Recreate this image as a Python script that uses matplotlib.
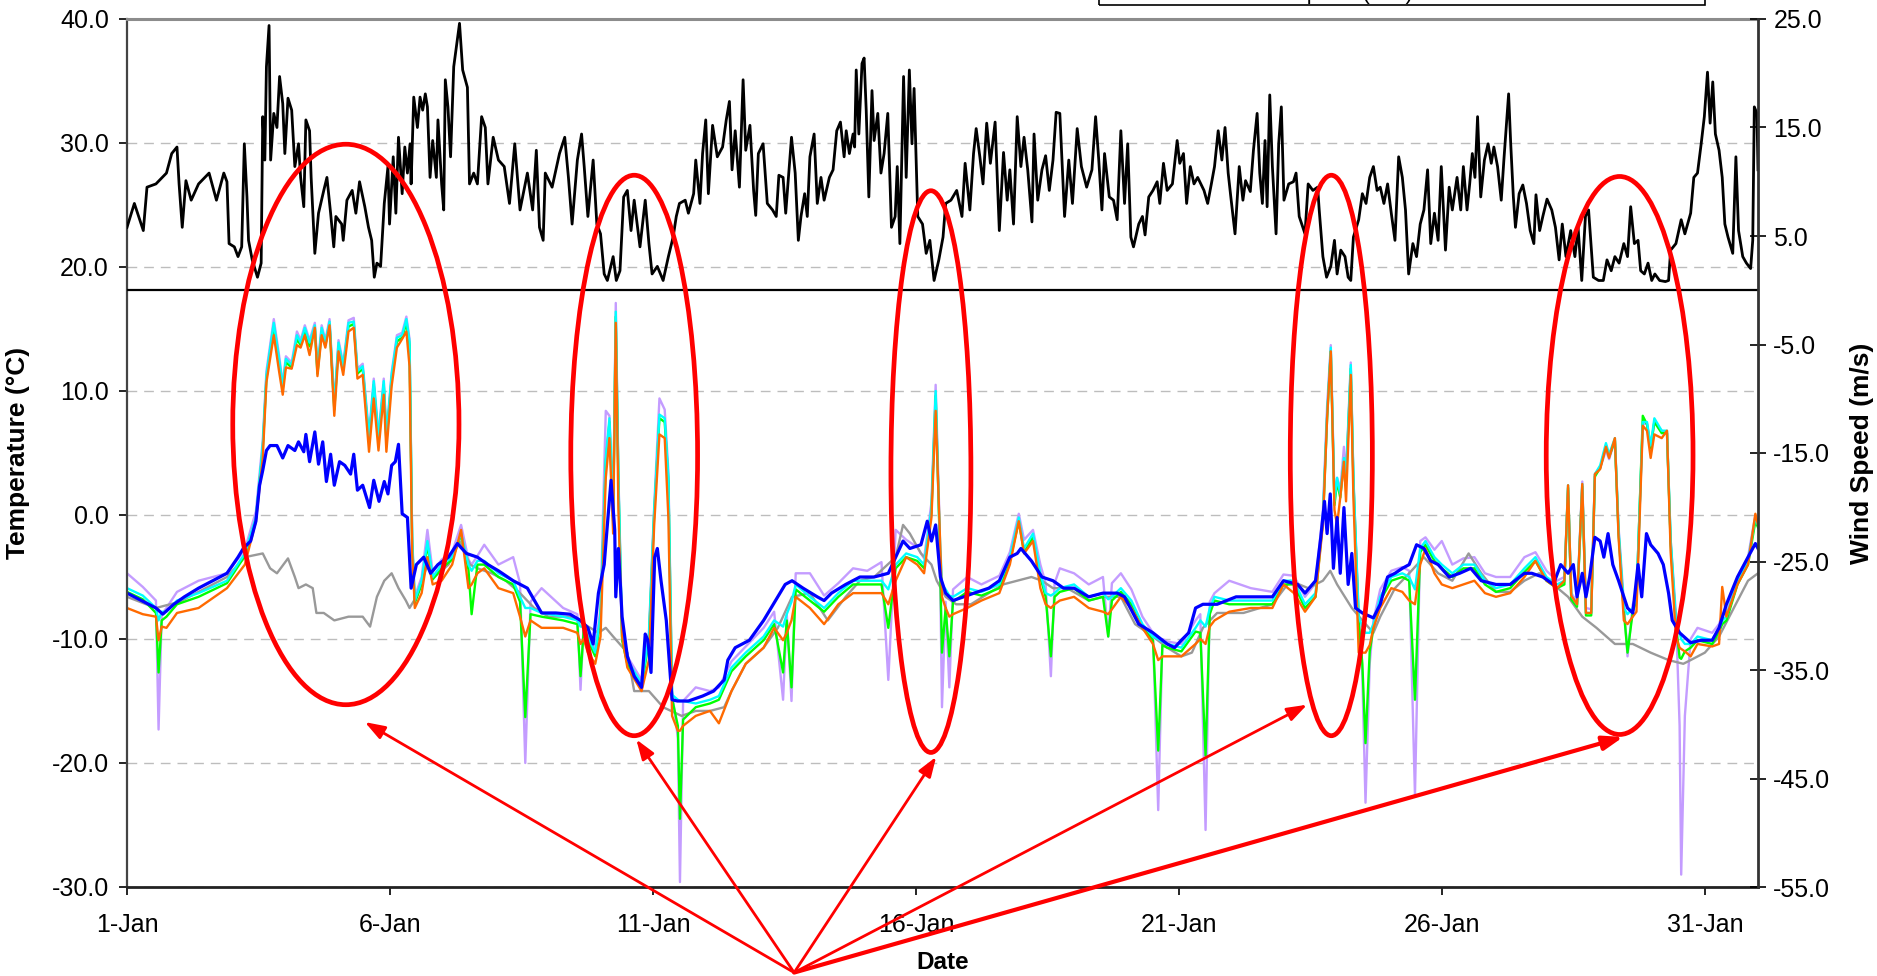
import matplotlib

matplotlib.use("Agg")
import matplotlib.pyplot as plt
from matplotlib.patches import Ellipse, Rectangle
from matplotlib.ticker import FormatStrFormatter

plt.rcParams["font.family"] = ["Liberation Sans", "DejaVu Sans"]

# x values are days since 1-Jan 00:00
date_ticks = [0, 5, 10, 15, 20, 25, 30]
date_labels = ["1-Jan", "6-Jan", "11-Jan", "16-Jan", "21-Jan", "26-Jan", "31-Jan"]
temp_ticks = [-30, -20, -10, 0, 10, 20, 30, 40]
wind_ticks = [-55, -45, -35, -25, -15, -5, 5, 15, 25]

# wind speed (m/s), right axis
wind_days = [
    0.00, 0.14, 0.31, 0.38, 0.55, 0.75, 0.85, 0.95, 0.99, 1.05, 1.12, 1.22, 1.36, 1.56, 1.70, 1.84,
    1.90, 1.94, 2.04, 2.11, 2.18, 2.23, 2.28, 2.31, 2.38, 2.48, 2.55, 2.58, 2.62, 2.65, 2.70, 2.73,
    2.79, 2.85, 2.90, 2.96, 3.00, 3.06, 3.13, 3.19, 3.26, 3.30, 3.36, 3.40, 3.47, 3.50, 3.57, 3.64,
    3.74, 3.80, 3.87, 3.93, 3.97, 4.08, 4.11, 4.18, 4.28, 4.35, 4.42, 4.52, 4.59, 4.65, 4.70, 4.75,
    4.82, 4.89, 4.96, 4.99, 5.06, 5.11, 5.16, 5.23, 5.28, 5.33, 5.38, 5.40, 5.45, 5.52, 5.57, 5.62,
    5.67, 5.71, 5.76, 5.81, 5.88, 5.91, 5.98, 6.02, 6.05, 6.10, 6.15, 6.21, 6.32, 6.38, 6.47, 6.51,
    6.59, 6.66, 6.74, 6.81, 6.86, 6.96, 7.06, 7.17, 7.27, 7.37, 7.47, 7.61, 7.71, 7.78, 7.84, 7.91,
    7.95, 8.08, 8.22, 8.32, 8.39, 8.46, 8.56, 8.64, 8.69, 8.76, 8.86, 8.93, 9.00, 9.07, 9.13, 9.24,
    9.30, 9.37, 9.44, 9.51, 9.58, 9.64, 9.75, 9.85, 9.92, 9.98, 10.08, 10.19, 10.29, 10.38, 10.44, 10.50,
    10.61, 10.67, 10.77, 10.81, 10.89, 10.94, 11.00, 11.05, 11.13, 11.22, 11.32, 11.39, 11.45, 11.50, 11.56, 11.64,
    11.71, 11.76, 11.84, 11.91, 11.95, 12.00, 12.09, 12.17, 12.27, 12.34, 12.39, 12.47, 12.52, 12.63, 12.70, 12.76,
    12.81, 12.88, 12.93, 12.98, 13.06, 13.12, 13.19, 13.25, 13.35, 13.42, 13.49, 13.56, 13.63, 13.67, 13.73, 13.80,
    13.83, 13.86, 13.91, 13.97, 14.01, 14.05, 14.10, 14.16, 14.20, 14.27, 14.33, 14.39, 14.46, 14.53, 14.60, 14.64,
    14.69, 14.76, 14.81, 14.87, 14.92, 14.96, 15.03, 15.12, 15.19, 15.26, 15.34, 15.43, 15.51, 15.56, 15.66, 15.77,
    15.87, 15.93, 16.02, 16.09, 16.14, 16.21, 16.27, 16.34, 16.41, 16.50, 16.58, 16.66, 16.73, 16.78, 16.85, 16.92,
    16.99, 17.05, 17.12, 17.20, 17.24, 17.31, 17.39, 17.46, 17.53, 17.60, 17.66, 17.73, 17.82, 17.90, 17.97, 18.06,
    18.14, 18.24, 18.34, 18.41, 18.47, 18.53, 18.58, 18.67, 18.75, 18.82, 18.89, 18.96, 19.02, 19.08, 19.13, 19.23,
    19.30, 19.35, 19.42, 19.50, 19.58, 19.63, 19.70, 19.77, 19.87, 19.96, 20.01, 20.08, 20.14, 20.21, 20.28, 20.35,
    20.47, 20.54, 20.61, 20.67, 20.74, 20.81, 20.87, 20.93, 20.98, 21.06, 21.14, 21.21, 21.26, 21.35, 21.41, 21.48,
    21.53, 21.58, 21.63, 21.67, 21.72, 21.77, 21.84, 21.89, 21.94, 21.99, 22.08, 22.17, 22.22, 22.28, 22.39, 22.45,
    22.54, 22.63, 22.66, 22.73, 22.80, 22.88, 22.95, 23.00, 23.07, 23.15, 23.21, 23.26, 23.31, 23.41, 23.48, 23.55,
    23.62, 23.69, 23.76, 23.82, 23.89, 23.96, 24.03, 24.10, 24.17, 24.24, 24.30, 24.36, 24.44, 24.51, 24.58, 24.65,
    24.72, 24.78, 24.85, 24.92, 24.98, 25.06, 25.13, 25.19, 25.28, 25.35, 25.40, 25.47, 25.52, 25.57, 25.62, 25.67,
    25.73, 25.80, 25.87, 25.93, 25.98, 26.05, 26.12, 26.17, 26.21, 26.26, 26.30, 26.35, 26.39, 26.46, 26.53, 26.60,
    26.67, 26.74, 26.78, 26.85, 26.91, 26.99, 27.08, 27.15, 27.22, 27.28, 27.35, 27.44, 27.52, 27.58, 27.65, 27.72,
    27.78, 27.87, 27.97, 28.06, 28.13, 28.21, 28.28, 28.36, 28.45, 28.52, 28.58, 28.65, 28.72, 28.77, 28.84, 28.91,
    28.98, 29.04, 29.13, 29.24, 29.30, 29.34, 29.44, 29.54, 29.61, 29.72, 29.78, 29.85, 29.92, 29.98, 30.04, 30.09,
    30.14, 30.19, 30.26, 30.32, 30.37, 30.43, 30.52, 30.58, 30.63, 30.71, 30.78, 30.86, 30.90, 30.93, 30.98, 31.00,
]
wind_ms = [
    5.8, 8.0, 5.5, 9.5, 9.8, 10.8, 12.6, 13.2, 9.8, 5.8, 10.1, 8.3, 9.8, 10.8, 8.3, 10.8,
    10.0, 4.3, 4.0, 3.1, 4.0, 13.5, 8.6, 4.6, 2.8, 1.2, 2.5, 16.0, 12.0, 20.6, 24.4, 12.0,
    16.3, 15.0, 19.7, 17.2, 12.6, 17.7, 16.6, 11.4, 13.5, 10.4, 7.7, 15.7, 14.7, 10.4, 3.4, 7.1,
    9.2, 10.4, 7.1, 4.0, 6.8, 6.1, 4.6, 8.3, 9.2, 7.1, 10.0, 7.7, 5.8, 4.6, 1.2, 2.5,
    2.2, 8.0, 11.4, 6.1, 12.3, 7.1, 14.1, 8.9, 13.2, 10.8, 13.5, 9.8, 17.8, 15.0, 17.8, 16.6,
    18.1, 16.9, 10.4, 13.8, 10.4, 15.7, 9.8, 7.4, 19.4, 16.9, 12.3, 20.6, 24.6, 20.3, 18.7, 9.8,
    10.8, 9.8, 16.0, 15.0, 9.8, 14.1, 12.0, 11.4, 8.0, 13.5, 7.4, 10.8, 7.4, 12.9, 5.8, 4.6,
    10.8, 9.5, 12.6, 14.1, 10.4, 6.1, 12.0, 14.4, 11.4, 6.8, 12.0, 6.1, 5.2, 1.5, 0.9, 3.1,
    0.9, 1.8, 8.6, 9.2, 5.5, 8.3, 4.0, 8.3, 4.3, 1.5, 2.2, 0.9, 3.1, 4.9, 6.8, 8.0,
    8.3, 7.1, 8.9, 12.0, 8.0, 12.6, 15.7, 8.9, 15.2, 12.3, 13.2, 15.7, 17.4, 11.1, 14.7, 9.5,
    19.4, 12.9, 15.2, 9.2, 6.9, 12.6, 13.5, 8.0, 7.4, 6.8, 10.6, 10.4, 7.1, 14.1, 10.8, 4.6,
    6.8, 8.9, 6.8, 12.3, 14.4, 8.0, 10.4, 8.3, 10.4, 11.1, 14.7, 15.5, 12.3, 14.7, 12.6, 14.4,
    13.2, 20.3, 14.4, 20.9, 21.4, 16.6, 8.6, 18.4, 13.8, 16.3, 10.8, 12.6, 16.3, 5.8, 6.8, 11.4,
    4.3, 19.7, 10.4, 20.3, 13.5, 18.6, 6.8, 6.1, 3.4, 4.6, 0.9, 2.8, 4.9, 8.0, 8.3, 9.2,
    6.8, 11.7, 7.4, 12.6, 14.9, 12.3, 9.8, 15.4, 11.7, 15.5, 5.5, 12.7, 8.3, 11.1, 6.1, 16.0,
    11.4, 14.1, 11.1, 6.3, 14.4, 8.3, 11.1, 12.4, 9.2, 12.0, 16.4, 16.3, 6.8, 12.0, 8.0, 14.9,
    11.4, 9.5, 11.1, 16.0, 12.0, 7.4, 12.6, 8.6, 8.3, 6.5, 14.7, 8.0, 13.5, 4.9, 4.0, 6.1,
    6.8, 5.1, 8.6, 9.2, 10.0, 8.0, 11.7, 9.2, 9.8, 13.8, 11.7, 12.6, 8.0, 11.4, 9.8, 10.4,
    9.2, 8.0, 9.8, 11.4, 14.7, 12.0, 15.0, 10.8, 8.6, 5.2, 11.4, 8.3, 10.1, 9.1, 12.9, 16.3,
    10.8, 8.0, 13.8, 7.7, 18.0, 11.4, 5.2, 13.5, 16.9, 8.3, 9.8, 10.0, 10.8, 6.8, 5.2, 9.8,
    9.2, 9.5, 7.4, 3.1, 1.2, 2.2, 4.6, 1.5, 3.7, 3.1, 1.2, 0.9, 4.9, 6.5, 8.9, 8.0,
    10.4, 11.4, 9.2, 9.5, 8.0, 9.8, 7.1, 4.6, 12.3, 10.4, 7.4, 1.5, 4.3, 3.1, 6.1, 7.4,
    11.1, 4.3, 7.1, 4.6, 11.4, 3.7, 9.5, 7.4, 10.4, 7.4, 11.4, 7.4, 9.8, 12.6, 10.4, 16.0,
    8.6, 12.0, 13.5, 11.7, 13.2, 11.4, 8.3, 12.0, 14.7, 18.1, 13.5, 8.6, 5.8, 8.9, 9.7, 8.0,
    5.5, 4.3, 8.8, 5.5, 6.8, 8.4, 7.4, 5.8, 2.8, 6.1, 3.1, 5.5, 3.1, 5.8, 0.9, 6.8,
    7.4, 1.2, 0.9, 0.9, 2.8, 1.8, 3.1, 2.5, 4.3, 3.1, 7.7, 4.3, 4.6, 1.8, 1.5, 2.5,
    0.9, 1.5, 0.9, 0.8, 0.9, 3.7, 4.3, 6.5, 5.2, 7.1, 10.4, 10.8, 13.5, 16.0, 20.1, 15.4,
    19.2, 14.4, 12.9, 10.4, 6.1, 4.9, 3.4, 12.3, 5.5, 3.1, 2.5, 2.0, 4.6, 16.9, 16.3, 11.1,
]

# sensor temperatures that jump during the events (cyan, green, orange, purple)
warm_days = [
    0.00, 0.30, 0.55, 0.60, 0.66, 0.75, 0.95, 1.36,
    1.90, 2.24, 2.45, 2.58, 2.65, 2.79, 2.89, 2.96,
    3.02, 3.13, 3.23, 3.30, 3.38, 3.47, 3.57, 3.62,
    3.70, 3.77, 3.85, 3.94, 4.02, 4.11, 4.21, 4.31,
    4.38, 4.48, 4.60, 4.69, 4.78, 4.88, 4.93, 5.03,
    5.13, 5.23, 5.31, 5.37, 5.42, 5.47, 5.60, 5.71,
    5.81, 5.98, 6.18, 6.35, 6.49, 6.55, 6.66, 6.79,
    7.06, 7.34, 7.47, 7.57, 7.67, 7.88, 8.29, 8.56,
    8.62, 8.68, 8.76, 8.90, 9.00, 9.10, 9.17, 9.24,
    9.29, 9.34, 9.41, 9.51, 9.78, 9.92, 10.02, 10.12,
    10.22, 10.29, 10.36, 10.47, 10.51, 10.57, 10.81, 11.08,
    11.25, 11.49, 11.76, 12.10, 12.30, 12.47, 12.54, 12.63,
    12.71, 12.98, 13.25, 13.52, 13.80, 14.07, 14.34, 14.47,
    14.61, 14.81, 15.02, 15.15, 15.29, 15.37, 15.44, 15.49,
    15.56, 15.63, 15.70, 15.97, 16.24, 16.58, 16.78, 16.95,
    17.05, 17.22, 17.36, 17.46, 17.56, 17.63, 17.73, 18.00,
    18.28, 18.55, 18.65, 18.72, 18.89, 19.09, 19.30, 19.50,
    19.60, 19.68, 19.77, 20.04, 20.31, 20.40, 20.50, 20.58,
    20.67, 20.95, 21.36, 21.77, 21.98, 22.18, 22.39, 22.59,
    22.73, 22.81, 22.88, 22.95, 23.00, 23.06, 23.13, 23.17,
    23.26, 23.31, 23.41, 23.48, 23.54, 23.62, 23.69, 23.82,
    24.03, 24.24, 24.37, 24.48, 24.58, 24.68, 24.85, 24.99,
    25.19, 25.40, 25.61, 25.81, 26.02, 26.29, 26.56, 26.77,
    26.98, 27.18, 27.32, 27.39, 27.45, 27.56, 27.66, 27.73,
    27.83, 27.90, 28.00, 28.11, 28.17, 28.28, 28.35, 28.45,
    28.52, 28.62, 28.69, 28.81, 28.89, 28.96, 29.03, 29.17,
    29.27, 29.34, 29.44, 29.51, 29.54, 29.61, 29.72, 29.85,
    30.13, 30.26, 30.32, 30.40, 30.61, 30.81, 30.95, 31.00,
]
cyan_t = [
    -5.9, -6.5, -7.5, -8.5, -7.8, -7.8, -6.9, -6.3,
    -5.3, -3.1, -0.2, 5.6, 11.3, 15.5, 12.6, 10.4,
    12.6, 12.1, 14.5, 13.9, 15.1, 13.9, 15.3, 11.6,
    15.1, 13.9, 15.6, 8.8, 13.9, 12.0, 15.5, 15.6,
    11.6, 12.0, 6.2, 10.8, 6.2, 10.8, 6.2, 11.3,
    14.3, 14.5, 15.8, 14.0, -2.0, -6.9, -5.3, -2.1,
    -5.0, -4.0, -3.4, -1.5, -4.0, -4.5, -3.7, -3.7,
    -4.7, -5.3, -6.6, -7.5, -7.5, -7.9, -8.2, -8.5,
    -9.0, -9.0, -9.8, -11.1, -8.0, 4.6, 7.8, -0.2,
    16.4, 3.0, -9.8, -11.7, -13.6, -9.8, 0.4, 8.1,
    7.8, 3.0, -14.5, -14.9, -15.0, -15.0, -15.2, -14.9,
    -14.6, -12.3, -11.1, -9.8, -8.5, -9.0, -8.0, -7.0,
    -5.6, -6.6, -7.5, -6.3, -5.3, -5.3, -5.3, -6.0,
    -4.0, -3.1, -3.4, -4.0, 0.5, 10.0, -0.8, -5.6,
    -6.0, -6.5, -6.6, -5.9, -6.2, -5.6, -3.4, -0.2,
    -2.7, -1.5, -4.7, -6.3, -6.5, -6.3, -5.9, -5.6,
    -6.6, -6.3, -6.8, -6.6, -5.9, -6.9, -8.8, -9.8,
    -10.0, -10.2, -10.4, -10.7, -9.1, -8.5, -9.0, -7.5,
    -6.6, -6.9, -6.9, -6.9, -5.3, -5.3, -7.2, -6.3,
    -0.2, 8.1, 13.5, 1.1, 3.0, 1.7, 4.6, 3.0,
    12.1, 3.0, -8.2, -9.0, -9.5, -9.5, -8.8, -6.6,
    -5.0, -4.7, -5.0, -6.0, -2.7, -2.1, -3.4, -4.0,
    -4.7, -4.0, -4.0, -5.3, -5.9, -5.6, -4.3, -3.4,
    -5.0, -5.6, -5.3, 2.4, -6.5, -7.2, 2.5, -7.9,
    -7.9, 3.3, 4.0, 5.8, 4.9, 6.2, -1.2, -7.5,
    -8.0, -7.5, -6.6, 7.5, 7.5, 5.6, 7.8, 6.8,
    6.8, -2.0, -8.5, -9.5, -10.0, -10.4, -10.4, -9.8,
    -10.1, -9.1, -8.5, -8.2, -5.3, -3.7, -0.2, -0.8,
]
green_t = [
    -6.2, -6.8, -7.9, -12.7, -8.5, -8.2, -7.2, -6.6,
    -5.5, -3.3, -0.3, 5.3, 11.0, 15.2, 12.3, 10.2,
    12.3, 11.9, 14.2, 13.7, 14.8, 13.6, 15.1, 11.4,
    14.8, 13.7, 15.4, 8.5, 13.6, 11.8, 15.2, 15.4,
    11.4, 11.8, 5.9, 10.5, 5.9, 10.5, 5.9, 11.0,
    14.0, 14.3, 15.5, 13.7, -2.3, -7.1, -5.6, -2.4,
    -5.2, -4.3, -3.6, -1.6, -4.4, -8.0, -4.0, -4.0,
    -5.0, -5.6, -7.0, -16.3, -8.0, -8.2, -8.5, -8.8,
    -13.0, -9.3, -10.1, -11.4, -8.3, 4.3, 7.5, -0.5,
    16.0, 2.7, -10.1, -12.0, -13.9, -10.1, 0.1, 7.8,
    7.5, 2.7, -14.8, -17.0, -24.5, -16.5, -15.5, -15.2,
    -14.9, -12.6, -11.4, -10.1, -8.8, -12.7, -8.5, -13.9,
    -6.0, -6.9, -7.8, -6.6, -5.6, -5.6, -5.6, -9.1,
    -4.3, -3.4, -3.7, -4.3, 0.2, 9.6, -1.1, -11.1,
    -7.5, -11.4, -7.0, -6.2, -6.5, -5.9, -3.7, -0.5,
    -3.0, -1.8, -5.0, -6.6, -11.4, -6.6, -6.2, -5.9,
    -6.9, -6.6, -9.8, -6.9, -6.2, -7.2, -9.1, -10.1,
    -19.0, -10.5, -10.7, -11.0, -9.4, -9.5, -19.4, -8.0,
    -6.9, -7.2, -7.2, -7.2, -5.6, -5.6, -7.5, -6.6,
    -0.5, 7.8, 13.2, 0.8, 2.7, 1.4, 4.3, 2.7,
    11.8, 2.7, -8.5, -12.0, -18.4, -11.0, -9.1, -6.9,
    -5.3, -5.0, -5.3, -14.9, -3.0, -2.4, -3.7, -4.3,
    -5.0, -4.3, -4.3, -5.6, -6.2, -5.9, -4.6, -3.7,
    -5.3, -5.9, -5.6, 2.2, -6.8, -7.4, 2.3, -8.1,
    -8.1, 3.1, 3.8, 5.6, 4.7, 6.0, -1.5, -7.8,
    -11.1, -7.8, -6.9, 8.0, 7.3, 5.4, 7.5, 6.6,
    6.6, -2.3, -8.8, -11.5, -11.6, -11.0, -10.7, -10.1,
    -10.4, -9.4, -8.8, -8.5, -5.6, -4.0, -0.5, -1.0,
]
orange_t = [
    -7.5, -8.0, -8.2, -10.1, -9.0, -9.1, -7.9, -7.5,
    -5.9, -4.0, -0.5, 4.6, 10.7, 14.5, 11.6, 9.7,
    11.9, 11.8, 13.7, 13.5, 14.5, 12.9, 15.1, 11.2,
    14.5, 13.5, 15.3, 8.0, 13.2, 11.3, 14.8, 15.1,
    11.0, 11.3, 5.1, 9.4, 5.2, 9.7, 5.1, 10.4,
    13.5, 14.2, 14.8, 12.0, -3.0, -7.5, -6.3, -3.4,
    -5.6, -5.3, -4.0, -1.2, -5.9, -5.6, -4.7, -4.3,
    -5.9, -6.3, -8.2, -9.8, -8.5, -9.1, -9.1, -9.5,
    -10.4, -10.0, -11.1, -12.0, -9.8, 3.0, 6.2, -1.5,
    15.5, 0.5, -9.8, -12.3, -14.2, -11.7, -0.8, 6.5,
    6.2, -0.2, -16.2, -17.4, -17.4, -17.0, -16.2, -15.8,
    -16.8, -14.2, -12.0, -10.7, -9.1, -10.1, -9.5, -8.5,
    -6.6, -7.5, -8.8, -7.2, -6.3, -6.3, -6.3, -7.2,
    -5.3, -3.4, -4.0, -4.7, -0.2, 8.4, -0.2, -6.6,
    -7.5, -8.2, -8.0, -7.5, -6.9, -6.3, -4.0, -0.5,
    -3.1, -2.1, -5.9, -7.2, -7.5, -7.2, -6.9, -6.6,
    -7.5, -7.8, -8.0, -7.6, -6.6, -7.5, -9.1, -10.4,
    -11.7, -11.4, -11.4, -11.4, -10.4, -10.0, -10.4, -9.0,
    -8.5, -7.8, -7.5, -7.5, -5.6, -6.3, -7.8, -6.6,
    -0.8, 7.8, 13.2, 0.4, -0.8, 1.4, 4.3, 1.1,
    11.3, 1.4, -11.1, -11.1, -11.1, -10.5, -9.1, -7.5,
    -5.9, -6.2, -6.9, -7.2, -4.0, -2.7, -4.7, -5.6,
    -5.9, -5.6, -5.3, -6.3, -6.6, -6.3, -5.0, -3.7,
    -5.3, -5.9, -5.3, 2.4, -6.5, -7.2, 2.5, -7.9,
    -7.9, 3.3, 3.7, 5.5, 4.6, 6.2, -1.8, -8.5,
    -8.8, -8.2, -7.8, 7.2, 6.8, 4.6, 6.5, 6.2,
    6.8, -3.0, -9.8, -10.7, -10.8, -11.0, -11.4, -10.4,
    -10.6, -10.4, -5.8, -8.2, -5.6, -4.0, 0.1, -0.8,
]
purple_t = [
    -4.7, -5.8, -6.9, -17.3, -8.0, -7.5, -6.2, -5.3,
    -4.7, -2.8, 0.3, 6.0, 11.6, 15.8, 12.9, 10.6,
    12.8, 12.3, 14.8, 14.1, 15.3, 14.1, 15.5, 11.8,
    15.3, 14.1, 15.8, 9.0, 14.1, 12.2, 15.7, 15.9,
    11.8, 12.2, 6.5, 11.0, 6.5, 11.0, 6.5, 11.5,
    14.5, 14.7, 16.0, 14.2, -1.8, -6.6, -5.0, -1.2,
    -4.6, -3.6, -3.0, -0.8, -3.6, -4.0, -3.3, -2.4,
    -4.0, -3.4, -5.5, -20.0, -7.0, -5.9, -7.5, -8.0,
    -14.1, -8.8, -9.5, -10.8, -7.5, 8.4, 8.0, 0.2,
    17.1, 3.3, -9.5, -11.4, -13.3, -9.5, 0.7, 9.4,
    8.5, 3.5, -14.2, -18.0, -29.6, -15.0, -13.9, -14.2,
    -13.9, -11.8, -10.6, -9.1, -7.8, -14.9, -8.0, -15.0,
    -4.7, -4.7, -6.5, -5.5, -4.3, -4.5, -3.8, -13.3,
    -1.2, -2.0, -2.6, -3.5, 1.0, 10.5, 0.0, -15.5,
    -7.0, -13.9, -6.0, -5.0, -5.6, -4.9, -3.0, 0.1,
    -2.0, -1.2, -4.0, -5.5, -13.0, -5.5, -4.3, -4.7,
    -5.6, -5.0, -9.8, -5.5, -4.7, -6.0, -8.2, -9.5,
    -23.8, -10.0, -10.2, -10.4, -8.5, -8.0, -25.4, -7.0,
    -6.3, -5.3, -5.9, -6.2, -4.8, -4.9, -6.6, -5.5,
    0.3, 8.8, 13.7, 1.5, 3.0, 2.0, 5.5, 3.2,
    12.3, 3.0, -8.0, -13.0, -23.2, -12.0, -8.5, -6.0,
    -4.5, -4.2, -4.5, -22.6, -2.1, -1.8, -2.8, -2.1,
    -4.0, -3.5, -3.4, -4.7, -5.0, -5.0, -3.4, -3.0,
    -4.5, -5.3, -5.0, 2.0, -6.3, -7.0, 2.7, -7.5,
    -7.6, 3.3, 3.8, 5.2, 4.5, 6.0, -1.0, -7.0,
    -11.4, -7.2, -6.5, 7.3, 7.4, 5.5, 7.5, 6.8,
    6.6, -2.0, -8.0, -17.0, -29.0, -16.2, -10.0, -9.1,
    -9.5, -8.8, -8.0, -8.0, -5.0, -3.4, 0.0, -0.8,
]

blue_days = [
    0.00, 0.55, 0.68, 0.89, 1.09, 1.36, 1.63, 1.90, 2.11, 2.21, 2.35, 2.45, 2.52, 2.58, 2.65, 2.72,
    2.85, 2.96, 3.06, 3.19, 3.26, 3.36, 3.40, 3.47, 3.57, 3.64, 3.72, 3.79, 3.87, 3.94, 4.04, 4.14,
    4.25, 4.31, 4.38, 4.48, 4.61, 4.69, 4.79, 4.89, 4.96, 5.03, 5.10, 5.16, 5.23, 5.33, 5.40, 5.50,
    5.64, 5.77, 5.91, 6.11, 6.28, 6.45, 6.66, 6.86, 7.06, 7.34, 7.61, 7.88, 8.15, 8.42, 8.62, 8.76,
    8.86, 8.96, 9.07, 9.13, 9.20, 9.27, 9.29, 9.34, 9.41, 9.51, 9.64, 9.78, 9.85, 9.90, 9.96, 10.03,
    10.08, 10.15, 10.25, 10.36, 10.46, 10.67, 10.94, 11.15, 11.35, 11.42, 11.56, 11.83, 12.10, 12.37, 12.51, 12.64,
    12.85, 13.12, 13.25, 13.39, 13.66, 13.93, 14.20, 14.47, 14.75, 14.88, 15.09, 15.21, 15.29, 15.37, 15.46, 15.56,
    15.70, 15.90, 16.10, 16.38, 16.58, 16.78, 16.92, 16.99, 17.19, 17.39, 17.60, 17.80, 18.00, 18.28, 18.55, 18.82,
    18.96, 19.23, 19.50, 19.77, 19.91, 20.04, 20.18, 20.31, 20.45, 20.72, 21.08, 21.43, 21.77, 21.98, 22.25, 22.39,
    22.59, 22.69, 22.76, 22.81, 22.87, 22.93, 23.00, 23.06, 23.13, 23.21, 23.28, 23.35, 23.48, 23.69, 23.82, 23.96,
    24.10, 24.24, 24.37, 24.51, 24.65, 24.78, 24.92, 25.13, 25.33, 25.54, 25.74, 26.02, 26.29, 26.56, 26.70, 26.91,
    27.11, 27.25, 27.39, 27.49, 27.56, 27.66, 27.73, 27.80, 27.90, 28.00, 28.07, 28.15, 28.24, 28.35, 28.45, 28.52,
    28.62, 28.72, 28.79, 28.88, 28.96, 29.10, 29.20, 29.30, 29.37, 29.51, 29.72, 29.92, 30.13, 30.26, 30.40, 30.61,
    30.81, 30.95, 31.00,
]
blue_t = [
    -6.3, -7.5, -8.0, -7.2, -6.6, -5.9, -5.3, -4.7, -3.4, -2.7, -2.1, -0.5, 2.4, 3.6, 5.2, 5.6,
    5.6, 4.6, 5.6, 5.2, 5.9, 5.1, 6.5, 4.3, 6.7, 4.1, 5.9, 2.7, 4.9, 2.4, 4.3, 4.0,
    3.3, 4.9, 2.0, 2.4, 0.6, 2.8, 1.1, 2.7, 1.7, 4.0, 4.3, 5.7, 0.1, -0.2, -5.9, -4.0,
    -3.4, -4.7, -4.0, -3.4, -2.3, -3.1, -3.4, -4.0, -4.5, -5.3, -5.9, -7.9, -7.9, -8.0, -8.5, -9.1,
    -10.4, -6.3, -4.0, -0.8, 2.8, -1.2, -6.6, -2.7, -8.2, -11.4, -13.0, -13.9, -9.6, -10.1, -12.7, -3.4,
    -2.7, -5.3, -8.5, -14.9, -15.0, -15.0, -14.6, -14.2, -13.3, -11.7, -10.7, -10.1, -8.5, -6.6, -5.6, -5.3,
    -5.9, -6.6, -6.9, -6.3, -5.6, -5.0, -5.0, -4.7, -2.1, -2.7, -2.4, -0.5, -2.1, -0.8, -5.0, -6.3,
    -6.9, -6.6, -6.3, -5.9, -5.3, -3.4, -3.1, -2.7, -3.7, -5.0, -5.3, -5.9, -5.9, -6.6, -6.3, -6.3,
    -6.6, -8.8, -9.5, -10.4, -10.7, -10.1, -9.5, -7.5, -7.2, -7.2, -6.6, -6.6, -6.6, -5.3, -5.6, -6.3,
    -5.3, -1.8, 1.1, -1.5, 1.7, -4.3, -0.2, -4.7, 0.6, -5.6, -3.1, -7.5, -7.9, -8.3, -7.2, -5.0,
    -4.7, -4.3, -4.0, -2.4, -2.7, -3.7, -4.0, -5.0, -4.7, -4.3, -5.3, -5.6, -5.6, -4.7, -4.7, -5.0,
    -5.6, -4.0, -4.7, -4.0, -6.6, -4.7, -6.6, -5.0, -1.8, -2.1, -3.4, -1.5, -4.0, -5.3, -6.6, -7.5,
    -7.9, -4.0, -6.6, -1.5, -2.4, -3.1, -4.0, -6.3, -8.5, -9.5, -10.3, -10.1, -10.1, -9.1, -7.2, -5.0,
    -3.4, -2.3, -2.7,
]

gray_days = [
    0.00, 0.55, 1.00, 1.90, 2.24, 2.58, 2.72, 2.85, 3.06, 3.19, 3.26, 3.40, 3.53, 3.60, 3.74, 3.94,
    4.21, 4.48, 4.62, 4.75, 4.89, 5.03, 5.16, 5.30, 5.37, 5.50, 5.71, 5.84, 6.11, 6.32, 6.52, 6.66,
    6.93, 7.20, 7.47, 7.74, 8.01, 8.42, 8.69, 8.96, 9.10, 9.24, 9.51, 9.64, 9.92, 10.19, 10.54, 10.81,
    11.08, 11.35, 11.49, 11.76, 12.10, 12.37, 12.64, 12.98, 13.12, 13.32, 13.66, 13.93, 14.20, 14.61, 14.75, 14.88,
    15.09, 15.29, 15.39, 15.56, 15.76, 16.04, 16.38, 16.65, 16.92, 17.19, 17.39, 17.60, 17.87, 18.28, 18.55, 18.89,
    19.16, 19.50, 19.77, 20.04, 20.24, 20.45, 20.72, 21.22, 21.77, 22.11, 22.45, 22.73, 22.87, 23.00, 23.28, 23.48,
    23.69, 23.82, 24.10, 24.37, 24.65, 24.92, 25.19, 25.50, 25.74, 26.02, 26.29, 26.56, 26.84, 27.11, 27.39, 27.66,
    27.93, 28.28, 28.62, 28.96, 29.30, 29.58, 29.72, 29.99, 30.26, 30.54, 30.81, 31.00,
]
gray_t = [
    -6.6, -7.5, -7.0, -5.0, -3.4, -3.1, -4.3, -4.7, -3.5, -5.0, -5.9, -5.6, -5.9, -7.9, -7.9, -8.5,
    -8.2, -8.2, -9.0, -6.6, -5.3, -4.7, -5.9, -6.9, -7.5, -6.6, -4.0, -5.0, -4.0, -2.1, -4.0, -4.3,
    -4.7, -5.3, -6.3, -7.5, -8.2, -8.2, -8.8, -9.5, -9.1, -9.8, -11.1, -14.2, -14.2, -15.5, -16.2, -15.8,
    -15.8, -15.5, -14.2, -12.0, -10.7, -9.1, -6.6, -6.3, -7.2, -8.5, -6.6, -5.3, -5.0, -3.4, -0.8, -1.5,
    -3.1, -4.0, -5.3, -6.6, -7.2, -7.2, -6.3, -5.6, -5.3, -5.0, -5.3, -5.9, -5.9, -6.9, -6.6, -6.6,
    -8.8, -9.8, -10.7, -11.4, -11.1, -9.1, -7.9, -7.9, -7.2, -5.3, -5.9, -5.3, -4.5, -5.6, -7.5, -8.5,
    -9.5, -8.2, -5.9, -4.7, -3.4, -4.7, -5.3, -3.1, -4.7, -6.2, -6.2, -5.3, -4.7, -5.6, -6.6, -8.2,
    -9.1, -10.4, -10.4, -11.1, -11.7, -12.0, -11.7, -11.1, -9.8, -7.5, -5.3, -4.7,
]

# red annotation ellipses: centre (day, degC), width (days), height (degC)
ellipse_centres = [(4.16, 7.3), (9.64, 4.8), (15.28, 3.5), (22.89, 4.8), (28.37, 4.8)]
ellipse_widths = [4.30, 2.41, 1.52, 1.56, 2.79]
ellipse_heights = [45.2, 45.2, 45.3, 45.2, 45.0]
arrow_origin = (12.68, -36.9)
arrow_tips = [(4.52, -16.7), (9.68, -18.1), (15.38, -19.5), (22.43, -15.3), (28.44, -17.9)]
arrow_widths = [2.0, 2.0, 2.0, 2.0, 3.0]

W, H = 1877, 976
fig = plt.figure(figsize=(W / 100, H / 100), dpi=100)
ax = fig.add_axes([127 / W, 1 - 887 / H, 1631 / W, 868 / H])
ax2 = ax.twinx()

ax.grid(axis="y", color="#bdbdbd", linestyle=(0, (7, 5)), linewidth=1.0)
ax.plot(warm_days, purple_t, color="#c49cff", lw=1.7)
ax.plot(gray_days, gray_t, color="#999999", lw=1.7)
ax.plot(warm_days, green_t, color="#00ff00", lw=1.7)
ax.plot(warm_days, cyan_t, color="#00ffff", lw=1.7)
ax.plot(warm_days, orange_t, color="#ff6a00", lw=1.7)
ax.plot(blue_days, blue_t, color="#0000ff", lw=2.3)

ax2.plot(wind_days, wind_ms, color="black", lw=2.0)
ax2.axhline(0, color="black", lw=1.6)

ax.set_xlim(0, 31)
ax.set_ylim(-30, 40)
ax2.set_ylim(-55, 25)
ax.set_xticks(date_ticks)
ax.set_xticklabels(date_labels)
ax.set_yticks(temp_ticks)
ax2.set_yticks(wind_ticks)
ax.yaxis.set_major_formatter(FormatStrFormatter("%.1f"))
ax2.yaxis.set_major_formatter(FormatStrFormatter("%.1f"))

ax.tick_params(axis="x", direction="out", length=6, width=1.2, labelsize=18, pad=13)
ax.tick_params(axis="y", direction="out", length=6, width=1.2, labelsize=18, pad=7)
ax2.tick_params(axis="y", direction="inout", length=12, width=1.2, labelsize=18, pad=5)

for side in ["left", "top", "bottom"]:
    ax2.spines[side].set_visible(False)
ax.spines["right"].set_visible(False)
ax.spines["top"].set_color("#8c8c8c")
ax.spines["top"].set_linewidth(2.2)
ax.spines["left"].set_color("#444444")
ax.spines["left"].set_linewidth(1.6)
ax.spines["bottom"].set_color("#222222")
ax.spines["bottom"].set_linewidth(2.0)
ax2.spines["right"].set_color("#333333")
ax2.spines["right"].set_linewidth(2.0)

ax.set_ylabel("Temperature (°C)", fontsize=19, fontweight="bold", va="center")
ax.yaxis.set_label_coords(-0.0668, 0.5)
ax2.set_ylabel("Wind Speed (m/s)", fontsize=19, fontweight="bold", rotation=90, va="center")
ax2.yaxis.set_label_coords(1.0637, 0.5)
ax.set_xlabel("Date", fontsize=17.5, fontweight="bold", va="center")
ax.xaxis.set_label_coords(0.5003, -0.0875)

for centre, w, h in zip(ellipse_centres, ellipse_widths, ellipse_heights):
    ax2.add_patch(Ellipse(centre, w, h, transform=ax.transData, fill=False,
                          edgecolor="red", lw=3.4, zorder=5))
for tip, lw in zip(arrow_tips, arrow_widths):
    ax2.annotate("", xy=tip, xycoords=ax.transData, xytext=arrow_origin, textcoords=ax.transData,
                 annotation_clip=False,
                 arrowprops=dict(arrowstyle="-|>,head_length=1.0,head_width=0.35", color="red",
                                 lw=lw, shrinkA=0, shrinkB=0, mutation_scale=12))

# legend box that is cut off by the top edge of the image
fig.add_artist(Rectangle((1099 / W, 1 - 5 / H), 606 / W, 0.05, transform=fig.transFigure,
                         fill=False, edgecolor="black", lw=1.2))
fig.text(1235 / W, 1 + 1 / H, "Wind Speed (m/s)", fontsize=16, va="baseline")

fig.savefig("out.png", dpi=100)
